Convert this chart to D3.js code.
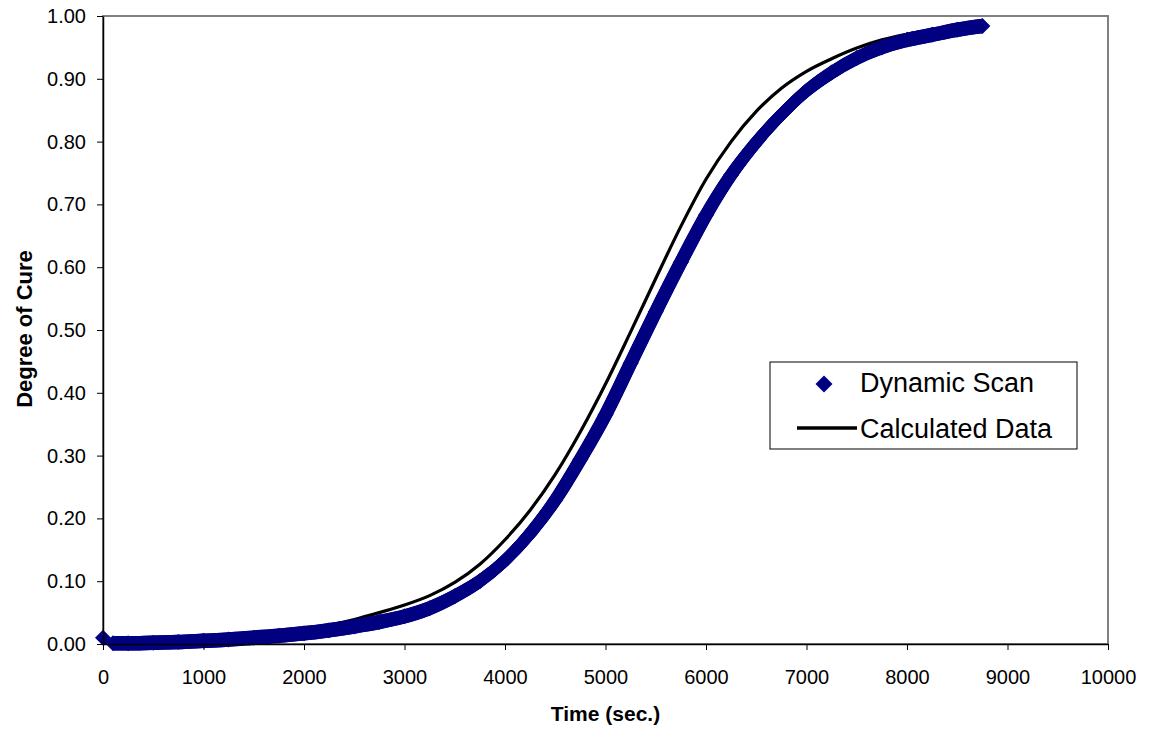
<!DOCTYPE html>
<html>
<head>
<meta charset="utf-8">
<script src="https://cdn.jsdelivr.net/npm/d3@7"></script>
<style>
  body { margin: 0; background: #fff; }
  svg { display: block; font-family: "Liberation Sans", Arial, sans-serif; }
</style>
</head>
<body>
<svg id="chart" width="1150" height="731"></svg>
<script>
// Dynamic scan: degree of cure measured against time (s)
const scanTime = [0, 100, 250, 500, 750, 1000, 1250, 1500, 1750, 2000, 2250, 2500, 2750, 3000,
  3250, 3500, 3750, 4000, 4250, 4500, 4750, 5000, 5250, 5500, 5750, 6000, 6250, 6500, 6750,
  7000, 7250, 7500, 7750, 8000, 8250, 8500, 8750];
const scanCure = [0.010, 0.001, 0.001, 0.002, 0.003, 0.005, 0.007, 0.010, 0.013, 0.017, 0.022,
  0.028, 0.035, 0.044, 0.057, 0.076, 0.100, 0.133, 0.176, 0.229, 0.294, 0.365, 0.447, 0.529,
  0.608, 0.683, 0.747, 0.799, 0.843, 0.881, 0.910, 0.933, 0.950, 0.962, 0.970, 0.978, 0.984];

// Model prediction (calculated data)
const calcTime = [0, 250, 500, 750, 1000, 1250, 1500, 1750, 2000, 2250, 2500, 2750, 3000, 3250,
  3500, 3750, 4000, 4250, 4500, 4750, 5000, 5250, 5500, 5750, 6000, 6250, 6500, 6750, 7000,
  7250, 7500, 7750, 8000, 8250, 8500, 8750];
const calcCure = [0.002, 0.003, 0.004, 0.006, 0.008, 0.011, 0.014, 0.018, 0.023, 0.030, 0.039,
  0.050, 0.062, 0.077, 0.098, 0.127, 0.166, 0.213, 0.270, 0.338, 0.414, 0.497, 0.582, 0.665,
  0.740, 0.800, 0.848, 0.885, 0.912, 0.932, 0.949, 0.962, 0.971, 0.977, 0.981, 0.984];

const xTicks = [0, 1000, 2000, 3000, 4000, 5000, 6000, 7000, 8000, 9000, 10000];
const yTicks = [0, 0.1, 0.2, 0.3, 0.4, 0.5, 0.6, 0.7, 0.8, 0.9, 1.0];

const seriesNames = ["Dynamic Scan", "Calculated Data"];

const plot = { left: 103, right: 1108, top: 16, bottom: 644 };
const navy = "#000080";
const markerR = 7.5;

const svg = d3.select("#chart");

const x = d3.scaleLinear().domain([0, 10000]).range([plot.left, plot.right]);
const y = d3.scaleLinear().domain([0, 1]).range([plot.bottom, plot.top]);

// plot frame
svg.append("rect")
  .attr("x", plot.left).attr("y", plot.top)
  .attr("width", plot.right - plot.left).attr("height", plot.bottom - plot.top)
  .attr("fill", "#fff").attr("stroke", "#808080").attr("stroke-width", 2);

const scanPts = scanTime.map((t, i) => [t, scanCure[i]]);
const calcPts = calcTime.map((t, i) => [t, calcCure[i]]);

const line = d3.line()
  .x(d => x(d[0]))
  .y(d => y(d[1]))
  .curve(d3.curveMonotoneX);

// calculated curve (drawn beneath the scan markers)
svg.append("path")
  .attr("d", line(calcPts))
  .attr("fill", "none")
  .attr("stroke", "#000")
  .attr("stroke-width", 3.2)
  .attr("stroke-linejoin", "round");

// dense diamond markers of the scan: sweep the diamond shape along the data path
const diamond = r => `M0,${-r}L${r},0L0,${r}L${-r},0Z`;
const sweep = svg.append("g");
const offsets = [];
for (let dx = -markerR; dx <= markerR; dx += 1) {
  for (let dy = -markerR; dy <= markerR; dy += 1) {
    if (Math.abs(dx) + Math.abs(dy) <= markerR) offsets.push([dx, dy]);
  }
}
sweep.selectAll("path").data(offsets).join("path")
  .attr("transform", d => `translate(${d[0]},${d[1]})`)
  .attr("d", line(scanPts.slice(1)))
  .attr("fill", "none")
  .attr("stroke", navy)
  .attr("stroke-width", 1.5);

svg.append("g").selectAll("path").data(scanPts).join("path")
  .attr("transform", d => `translate(${x(d[0])},${y(d[1])})`)
  .attr("d", diamond(markerR + 0.5))
  .attr("fill", navy);

// axes
const yAxis = d3.axisLeft(y).tickValues(yTicks).tickFormat(d3.format(".2f"))
  .tickSizeInner(6).tickSizeOuter(0).tickPadding(11);
const gy = svg.append("g").attr("transform", `translate(${plot.left},0)`).call(yAxis);

const xAxis = d3.axisBottom(x).tickValues(xTicks).tickFormat(d3.format("d"))
  .tickSizeInner(6).tickSizeOuter(0).tickPadding(20);
const gx = svg.append("g").attr("transform", `translate(0,${plot.bottom})`).call(xAxis);

[gx, gy].forEach(g => {
  g.select(".domain").attr("stroke", "#000").attr("stroke-width", 1.5);
  g.selectAll(".tick line").attr("stroke", "#000").attr("stroke-width", 1);
  g.selectAll(".tick text").attr("fill", "#000")
    .style("font-family", '"Liberation Sans", Arial, sans-serif')
    .style("font-size", "20px");
});

// axis titles
svg.append("text")
  .attr("x", (plot.left + plot.right) / 2).attr("y", 721)
  .attr("text-anchor", "middle")
  .style("font-size", "21px").style("font-weight", "bold")
  .text("Time (sec.)");

svg.append("text")
  .attr("transform", "translate(32,329) rotate(-90)")
  .attr("text-anchor", "middle")
  .style("font-size", "22px").style("font-weight", "bold")
  .text("Degree of Cure");

// legend
const lg = svg.append("g");
lg.append("rect")
  .attr("x", 770).attr("y", 362).attr("width", 307).attr("height", 87)
  .attr("fill", "#fff").attr("stroke", "#000").attr("stroke-width", 1);
lg.append("path")
  .attr("transform", "translate(824,384)")
  .attr("d", diamond(8.5))
  .attr("fill", navy);
lg.append("line")
  .attr("x1", 797).attr("x2", 857).attr("y1", 428).attr("y2", 428)
  .attr("stroke", "#000").attr("stroke-width", 3.5);
lg.selectAll("text").data(seriesNames).join("text")
  .attr("x", 860)
  .attr("y", (d, i) => 392 + i * 46)
  .style("font-size", "27px")
  .text(d => d);
</script>
</body>
</html>
